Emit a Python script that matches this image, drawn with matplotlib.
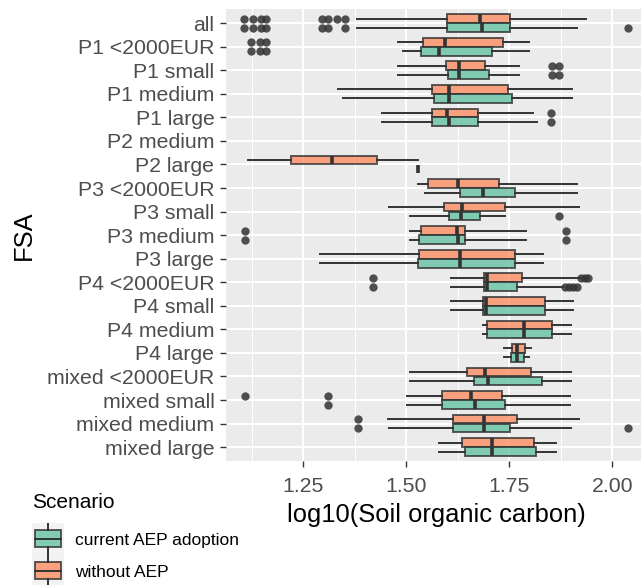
import numpy as np
import matplotlib
matplotlib.use("Agg")
import matplotlib.pyplot as plt
from matplotlib.patches import Rectangle

plt.rcParams['font.family'] = ['Liberation Sans', 'DejaVu Sans']

# categories, top to bottom
cats = ["all", "P1 <2000EUR", "P1 small", "P1 medium", "P1 large",
        "P2 medium", "P2 large", "P3 <2000EUR", "P3 small", "P3 medium",
        "P3 large", "P4 <2000EUR", "P4 small", "P4 medium", "P4 large",
        "mixed <2000EUR", "mixed small", "mixed medium", "mixed large"]

# (whisker low, q1, median, q3, whisker high) per category, None = no data
without_stats = [
    (1.381, 1.600, 1.680, 1.751, 1.937),
    (1.480, 1.541, 1.595, 1.734, 1.799),
    (1.480, 1.597, 1.629, 1.692, 1.773),
    (1.335, 1.562, 1.603, 1.747, 1.902),
    (1.442, 1.562, 1.600, 1.674, 1.808),
    None,
    (1.116, 1.221, 1.321, 1.430, 1.529),
    (1.528, 1.554, 1.627, 1.725, 1.915),
    (1.459, 1.593, 1.635, 1.741, 1.919),
    (1.510, 1.536, 1.623, 1.644, 1.791),
    (1.292, 1.532, 1.631, 1.764, 1.833),
    (1.609, 1.690, 1.696, 1.782, 1.921),
    (1.609, 1.686, 1.694, 1.836, 1.905),
    (1.686, 1.696, 1.787, 1.854, 1.900),
    (1.737, 1.756, 1.770, 1.789, 1.804),
    (1.510, 1.648, 1.692, 1.802, 1.901),
    (1.501, 1.588, 1.658, 1.733, 1.897),
    (1.455, 1.614, 1.690, 1.769, 1.919),
    (1.579, 1.636, 1.708, 1.810, 1.863),
]
current_stats = [
    (1.381, 1.600, 1.684, 1.751, 1.915),
    (1.493, 1.537, 1.580, 1.709, 1.799),
    (1.480, 1.601, 1.629, 1.700, 1.773),
    (1.347, 1.567, 1.603, 1.756, 1.902),
    (1.442, 1.562, 1.603, 1.674, 1.817),
    None,
    (1.530, 1.530, 1.530, 1.530, 1.530),
    (1.545, 1.631, 1.686, 1.764, 1.915),
    (1.510, 1.605, 1.634, 1.679, 1.739),
    (1.510, 1.532, 1.627, 1.644, 1.791),
    (1.292, 1.528, 1.631, 1.764, 1.833),
    (1.609, 1.690, 1.696, 1.769, 1.881),
    (1.609, 1.686, 1.694, 1.836, 1.905),
    (1.686, 1.696, 1.787, 1.854, 1.900),
    (1.737, 1.755, 1.770, 1.785, 1.799),
    (1.510, 1.664, 1.698, 1.830, 1.901),
    (1.501, 1.588, 1.668, 1.741, 1.897),
    (1.459, 1.614, 1.690, 1.751, 1.900),
    (1.579, 1.644, 1.708, 1.814, 1.863),
]

without_out = {
    "all": [1.107, 1.128, 1.148, 1.161, 1.295, 1.311, 1.333, 1.352],
    "P1 <2000EUR": [1.123, 1.145, 1.161],
    "P1 small": [1.853, 1.871],
    "P1 large": [1.852],
    "P3 medium": [1.108, 1.889],
    "P4 <2000EUR": [1.420, 1.925, 1.933, 1.941],
    "mixed small": [1.110, 1.310],
    "mixed medium": [1.383],
}
current_out = {
    "all": [1.107, 1.128, 1.148, 1.161, 1.295, 1.311, 1.352, 2.038],
    "P1 <2000EUR": [1.123, 1.145, 1.161],
    "P1 small": [1.853, 1.871],
    "P1 large": [1.852],
    "P3 small": [1.872],
    "P3 medium": [1.108, 1.889],
    "P4 <2000EUR": [1.420, 1.886, 1.896, 1.906, 1.915],
    "mixed small": [1.310],
    "mixed medium": [1.383, 2.038],
}

green = "#66C2A5"
orange = "#FC8D62"
edge = "#333333"

W, H = 641, 585
fig = plt.figure(figsize=(W / 100, H / 100), dpi=100)
# panel runs a little past the right edge of the picture
ax = fig.add_axes([226 / W, 1 - 461.3 / H, (646.8 - 226) / W, 452.3 / H])
ax.set_facecolor("#EBEBEB")


def draw(stats, outs, offset, color):
    bx = []
    pos = []
    for i, s in enumerate(stats):
        if s is None:
            continue
        lo, q1, med, q3, hi = s
        bx.append(dict(whislo=lo, q1=q1, med=med, q3=q3, whishi=hi,
                       fliers=outs.get(cats[i], [])))
        pos.append(i + offset)
    ax.bxp(bx, positions=pos, widths=0.37, orientation='horizontal',
           patch_artist=True, showcaps=False, manage_ticks=False,
           boxprops=dict(facecolor=color, alpha=0.8, edgecolor=edge, linewidth=1.4),
           medianprops=dict(color=edge, linewidth=2.6),
           whiskerprops=dict(color=edge, linewidth=1.4),
           flierprops=dict(marker='o', markersize=6, markerfacecolor=edge,
                           markeredgecolor='none', alpha=0.85),
           zorder=3)


draw(without_stats, without_out, -0.19, orange)
draw(current_stats, current_out, 0.19, green)

ax.set_ylim(len(cats) - 0.4, -0.6)
ax.set_xlim(1.063, 2.084)
ax.set_yticks(range(len(cats)))
ax.set_yticklabels(cats)
ax.set_xticks([1.25, 1.50, 1.75, 2.00])
ax.set_xticklabels(["1.25", "1.50", "1.75", "2.00"])
ax.set_xticks([1.125, 1.375, 1.625, 1.875], minor=True)
ax.grid(which='major', color='white', linewidth=1.5, zorder=0)
ax.grid(which='minor', axis='x', color='white', linewidth=0.75, zorder=0)
ax.set_axisbelow(True)
for sp in ax.spines.values():
    sp.set_visible(False)
ax.tick_params(axis='both', which='major', length=4.3, width=1.0, color=edge,
               labelcolor='#4D4D4D', labelsize=15.3, pad=4)
ax.tick_params(axis='x', which='major', pad=7)
ax.tick_params(axis='x', which='minor', length=0)

ax.set_xlabel("log10(Soil organic carbon)", fontsize=18.4, color='black', labelpad=5)
ax.set_ylabel("FSA", fontsize=18.4, color='black', labelpad=8)

# legend at bottom left
fig.text(31.7 / W, 1 - 503 / H, "Scenario", fontsize=15, va='center', ha='left')
keys = [(green, "current AEP adoption", 522.5), (orange, "without AEP", 554.5)]
for col, lab, top in keys:
    k = fig.add_axes([31.7 / W, 1 - (top + 32) / H, 32.6 / W, 32 / H])
    k.set_xlim(0, 1)
    k.set_ylim(0, 1)
    k.set_facecolor("#F2F2F2")
    k.set_xticks([])
    k.set_yticks([])
    for sp in k.spines.values():
        sp.set_visible(False)
    k.add_patch(Rectangle((0.1, 0.24), 0.8, 0.52, facecolor=col, alpha=0.8,
                          edgecolor=edge, linewidth=1.4))
    k.plot([0.1, 0.9], [0.5, 0.5], color=edge, linewidth=1.4)
    k.plot([0.5, 0.5], [0.76, 1.0], color=edge, linewidth=1.4)
    k.plot([0.5, 0.5], [0.0, 0.24], color=edge, linewidth=1.4)
    fig.text(75 / W, 1 - (top + 18) / H, lab, fontsize=12.5, va='center', ha='left')

fig.savefig("out.png", dpi=100)
